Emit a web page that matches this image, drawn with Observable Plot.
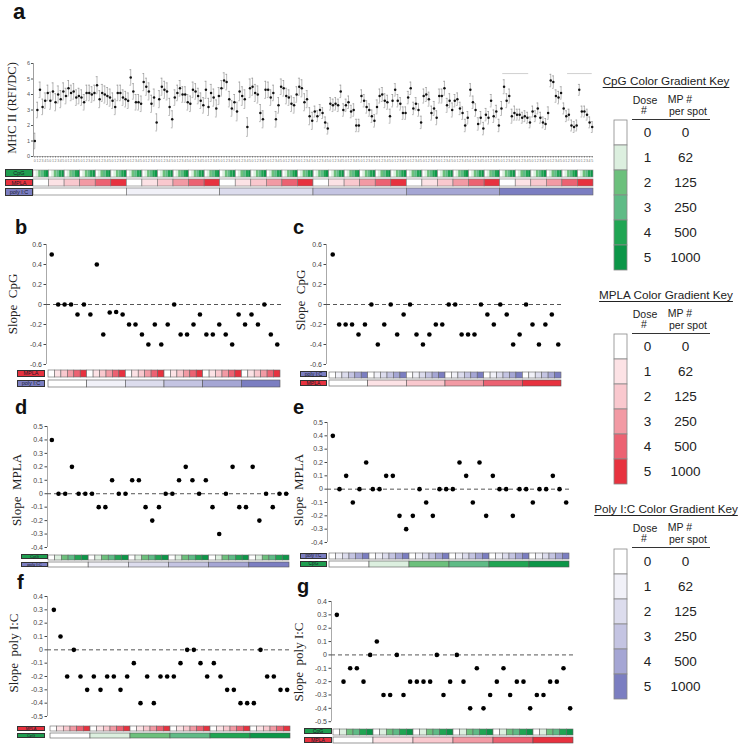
<!DOCTYPE html>
<html><head><meta charset="utf-8">
<script src="https://cdn.jsdelivr.net/npm/d3@7"></script>
<script src="https://cdn.jsdelivr.net/npm/@observablehq/plot@0.6"></script>
<style>
body{margin:0;background:#fff;}
#root{position:relative;width:740px;height:750px;overflow:hidden;font-family:"Liberation Sans",Arial,sans-serif;color:#222;}
#root > *{position:absolute;}
</style>
</head><body><div id="root"></div>
<script>
// ---------------- DATA ----------------
const doses = [0,1,2,3,4,5];
const mpPerSpot = ["0","62","125","250","500","1000"];
const cpgPal  = ["#ffffff","#dcefdf","#6cc07c","#5fbb86","#20a553","#0c9648"];
const mplaPal = ["#ffffff","#fce2e5","#f9c8ce","#f29aa4","#ec6272","#e7323f"];
const polyPal = ["#ffffff","#f1f1f8","#dcdced","#c4c4e2","#a5a6d4","#7b7ec1"];

// Panel a: MHC II mean (RFI/DC), 216 wells: poly I:C (slowest) x MPLA x CpG (fastest)
const mhcMeans = [
 1.0,3.0,4.3,3.2,3.6,4.1, 3.6,4.2,3.5,4.0,3.7,4.2, 3.9,4.4,4.1,4.2,3.8,3.9,
 3.8,3.5,4.1,4.1,4.0,4.1, 4.6,3.7,4.1,4.0,3.9,3.8, 3.6,3.2,4.1,4.1,3.8,3.7,
 3.6,5.1,4.2,3.5,3.5,3.4, 4.8,4.5,4.2,3.4,3.8,2.2, 3.7,4.5,4.3,4.2,3.2,2.4,
 3.8,4.1,4.4,4.0,4.0,3.5, 3.4,4.3,4.2,3.9,3.6,3.3, 4.3,3.2,4.1,3.8,3.1,3.9,
 4.4,4.9,4.8,3.7,3.1,3.5, 2.9,4.2,3.9,3.7,1.9,4.4, 4.5,4.1,4.0,2.8,2.4,4.3,
 4.3,3.8,4.1,2.4,3.3,4.5, 4.4,3.9,3.8,3.4,3.3,4.0, 4.5,4.4,3.5,3.7,2.6,2.3,
 2.9,2.6,3.0,2.8,2.2,1.8, 3.4,3.3,3.4,3.3,4.2,3.0, 3.3,3.5,2.9,3.0,2.0,2.0,
 3.9,3.6,3.2,3.0,2.6,2.3, 3.2,3.9,4.0,3.6,3.5,2.6, 3.6,4.3,3.6,3.4,2.8,2.8,
 3.8,4.4,3.1,3.4,3.0,2.2, 3.9,4.0,3.7,2.8,3.1,2.5, 3.9,3.9,4.4,3.3,3.6,3.0,
 3.6,3.7,3.1,2.8,2.0,2.5, 4.3,3.5,3.0,2.1,2.5,1.8, 2.7,2.5,3.6,2.6,2.9,2.0,
 3.1,4.5,3.6,3.9,2.6,2.8, 2.7,2.7,2.5,2.6,2.5,2.2, 2.9,2.6,3.1,2.5,2.2,2.1,
 2.8,4.9,4.8,3.9,3.8,4.1, 3.1,2.6,2.7,2.0,1.9,2.0, 4.3,2.9,2.9,2.7,2.2,1.9
];
// error half-width per MPLA block of 6 wells
const mhcErr = [0.5,0.55,0.5,0.5,0.55,0.5, 0.5,0.55,0.55,0.5,0.5,0.55, 0.5,0.6,0.55,0.5,0.5,0.55,
 0.35,0.4,0.4,0.4,0.45,0.4, 0.4,0.45,0.45,0.4,0.4,0.4, 0.45,0.35,0.35,0.4,0.35,0.35];
const sigBars = [{x1:181, x2:191, y:5.35},{x1:206, x2:215.5, y:5.35}];

const bSlope = [0.5,0,0,0,-0.1,0, -0.1,0.4,-0.3,-0.08,-0.075,-0.1, -0.2,-0.2,-0.3,-0.4,-0.2,-0.4, -0.2,0,-0.3,-0.3,-0.2,-0.1, -0.3,-0.3,-0.2,-0.3,-0.4,-0.1, -0.2,-0.1,-0.2,0,-0.3,-0.4];
const cSlope = [0.5,-0.2,-0.2,-0.2,-0.3,-0.2, 0,-0.4,-0.2,0,-0.3,-0.1, 0,-0.3,-0.4,-0.3,-0.2,-0.2, 0,0,-0.3,-0.3,-0.3,0, -0.1,-0.2,0,-0.1,-0.4,-0.3, 0,-0.2,-0.4,-0.2,-0.1,-0.4];
const dSlope = [0.4,0,0,0.2,0,0, 0,-0.1,-0.1,0.1,0,0, 0.1,0.1,-0.1,-0.2,-0.1,0, 0,0.1,0.2,0.1,0,0.1, -0.1,-0.3,0,0.2,-0.1,-0.1, 0.2,-0.2,0,-0.1,0,0];
const eSlope = [0.4,0,0.1,-0.1,0,0.2, 0,0,0.1,0.1,-0.2,-0.3, -0.2,0,-0.1,-0.2,0,0, 0,0.2,0.1,-0.1,0.2,-0.2, 0.1,0,0,-0.2,0,0, -0.1,0,0,0.1,0,-0.1];
const fSlope = [0.3,0.1,-0.2,0,-0.2,-0.3, -0.2,-0.3,-0.2,-0.2,-0.3,-0.2, -0.1,-0.4,-0.2,-0.4,-0.2,-0.2, -0.2,-0.1,0,0,-0.1,-0.2, -0.1,-0.2,-0.3,-0.3,-0.4,-0.4, -0.4,0,-0.2,-0.2,-0.3,-0.3];
const gSlope = [0.3,-0.2,-0.1,-0.1,-0.2,0, 0.1,-0.3,-0.3,0,-0.3,-0.2, -0.2,-0.2,-0.2,0,-0.3,-0.2, 0,-0.2,-0.4,-0.1,-0.4,-0.3, -0.2,-0.1,-0.3,-0.2,-0.2,-0.4, -0.3,-0.3,-0.2,-0.2,-0.1,-0.4];

// ---------------- HELPERS ----------------
const root = document.getElementById("root");
const SANS = "'Liberation Sans', Arial, sans-serif";
const SERIF = "'Liberation Serif', 'Times New Roman', serif";
const agents = {
  CpG:{pal:cpgPal, label:"CpG", tag:"#1f9e50"},
  MPLA:{pal:mplaPal, label:"MPLA", tag:"#e7323f"},
  poly:{pal:polyPal, label:"poly I:C", tag:"#7b7ec1"}
};
function put(node, left, top){ node.style.position="absolute"; node.style.left=left+"px"; node.style.top=top+"px"; root.appendChild(node); return node; }
function txt(text, css){ const d=document.createElement("div"); d.textContent=text; d.style.cssText="position:absolute;white-space:pre;line-height:1;"+css; root.appendChild(d); return d; }
function letter(ch, x, baseline, fs){ txt(ch, `left:${x}px;top:${baseline-0.85*fs}px;font:bold ${fs}px ${SANS};color:#111`); }
function ylab(t, cx, cy, fs){ txt(t, `left:${cx}px;top:${cy}px;transform:translate(-50%,-50%) rotate(-90deg);font-family:${SERIF};font-size:${fs}px;color:#222`); }
function tag(ag, x0, x1, y0, h){
  txt(agents[ag].label, `left:${x0}px;top:${y0}px;width:${x1-x0}px;height:${h}px;box-sizing:border-box;border:0.7px solid #333;background:${agents[ag].tag};font-family:${SANS};font-size:${Math.min(5.5,h-1)}px;line-height:${h-1.4}px;text-align:center;color:#1a1a2a`);
}
const baseStyle = {background:"transparent", overflow:"visible", fontFamily:SANS};

// Strip of dose-coded cells
function strip({left, top, height, width, mL, mR, xDomain, rows, pad}){
  const marks = [];
  rows.forEach(r => {
    marks.push(Plot.barX(r.cells, {x1:"x1", x2:"x2", y:() => r.name, fill:d => agents[r.agent].pal[d.dose], stroke:r.stroke || "none", strokeWidth:0.6}));
    if (r.outline) marks.push(Plot.barX(r.outline, {x1:"x1", x2:"x2", y:() => r.name, fill:"none", stroke:"#888", strokeWidth:0.6}));
  });
  const p = Plot.plot({width, height, marginLeft:mL, marginRight:mR, marginTop:0, marginBottom:0,
    x:{domain:xDomain, axis:null},
    y:{type:"band", domain:rows.map(r=>r.name), paddingInner:pad, paddingOuter:0, axis:null},
    style:baseStyle, marks});
  put(p, left, top);
  const step = height/(rows.length - pad), bw = step*(1-pad);
  return rows.map((r,i)=>({y0: top + i*step, h: bw}));
}
function fastCells(n){ return d3.range(n).map(i=>({x1:i, x2:i+1, dose:doses[i%6]})); }
function blockCells(n, w){ return d3.range(n).map(k=>({x1:k*w, x2:(k+1)*w, dose:doses[k%6]})); }

// ---------------- PANEL A ----------------
letter("a", 13, 18, 22);
const aData = mhcMeans.map((m,i)=>({x:i+0.5, m, e:mhcErr[Math.floor(i/6)]}));
const aPlot = Plot.plot({
  width:600, height:115, marginLeft:33, marginRight:7, marginTop:8, marginBottom:14,
  x:{domain:[0,216], axis:null}, y:{domain:[0,6], axis:null},
  style:{...baseStyle, color:"#333"},
  marks:[
    Plot.ruleY([0], {stroke:"#999", strokeWidth:0.7}),
    Plot.ruleX([0], {y1:0, y2:6, stroke:"#888", strokeWidth:0.8}),
    Plot.axisY({ticks:[0,1,2,3,4,5,6], tickFormat:d=>String(d), tickSize:2, tickPadding:1.5, fontSize:5.5, label:null, color:"#555"}),
    Plot.axisX({ticks:aData.map(d=>d.x), tickFormat:d=>String(Math.floor(d)%6), tickSize:1.5, tickPadding:1, fontSize:3.6, label:null, color:"#777"}),
    Plot.ruleY(sigBars, {y:"y", x1:"x1", x2:"x2", stroke:"#c4c4c4", strokeWidth:0.8}),
    Plot.ruleX(aData, {x:"x", y1:d=>d.m-d.e, y2:d=>d.m+d.e, stroke:"#888", strokeWidth:0.6}),
    Plot.ruleY(aData, {y:d=>d.m-d.e, x1:d=>d.x-0.32, x2:d=>d.x+0.32, stroke:"#888", strokeWidth:0.6}),
    Plot.ruleY(aData, {y:d=>d.m+d.e, x1:d=>d.x-0.32, x2:d=>d.x+0.32, stroke:"#888", strokeWidth:0.6}),
    Plot.dot(aData, {x:"x", y:"m", r:1.25, fill:"#111"})
  ]
});
put(aPlot, 0, 55);
ylab("MHC II (RFI/DC)", 12, 108, 12.5);
const aRows = strip({left:0, top:169, height:27, width:600, mL:33, mR:7, xDomain:[0,216], pad:0.2, rows:[
  {name:"CpG", agent:"CpG", cells:fastCells(216), outline:blockCells(36,6)},
  {name:"MPLA", agent:"MPLA", cells:blockCells(36,6), stroke:"#777"},
  {name:"poly", agent:"poly", cells:blockCells(6,36), stroke:"#666"}
]});
["CpG","MPLA","poly"].forEach((ag,i)=>tag(ag, 5, 33, aRows[i].y0, aRows[i].h));

// ---------------- PANELS B-G ----------------
const panels = [
 {ch:"b", vals:bSlope, left:0,   axis:46,  c0:48,  c1:280, yDom:[-0.6,0.6], yPx:[244,364],   step:0.2, sT:370, sB:387, fast:"MPLA", slow:"poly", tagX:[17,45],  lx:15,  lb:233, ylab:"Slope  CpG",      yl:[12,304]},
 {ch:"c", vals:cSlope, left:290, axis:326, c0:329, c1:561, yDom:[-0.6,0.6], yPx:[244,364],   step:0.2, sT:371, sB:386, fast:"poly", slow:"MPLA", tagX:[300,327], lx:293, lb:233, ylab:"Slope  CpG",      yl:[300,300]},
 {ch:"d", vals:dSlope, left:0,   axis:47,  c0:48,  c1:289, yDom:[-0.4,0.5], yPx:[426,547],   step:0.1, sT:554, sB:567, fast:"CpG",  slow:"poly", tagX:[21,48],  lx:15,  lb:413, ylab:"Slope  MPLA",     yl:[16,490]},
 {ch:"e", vals:eSlope, left:290, axis:327, c0:329, c1:569, yDom:[-0.4,0.5], yPx:[422,542],   step:0.1, sT:553, sB:567, fast:"poly", slow:"CpG",  tagX:[300,327], lx:293, lb:413, ylab:"Slope  MPLA",     yl:[298,490]},
 {ch:"f", vals:fSlope, left:0,   axis:47,  c0:50,  c1:290, yDom:[-0.5,0.4], yPx:[596,716],   step:0.1, sT:726, sB:738, fast:"MPLA", slow:"CpG",  tagX:[17,45],  lx:17,  lb:588, ylab:"Slope  poly I:C", yl:[13,653]},
 {ch:"g", vals:gSlope, left:290, axis:331, c0:333, c1:573, yDom:[-0.5,0.4], yPx:[600.5,720.7], step:0.1, sT:728, sB:743, fast:"CpG",  slow:"MPLA", tagX:[304,332], lx:297, lb:592, ylab:"Slope  poly I:C", yl:[298,662]}
];
panels.forEach(P => {
  letter(P.ch, P.lx, P.lb, 20);
  ylab(P.ylab, P.yl[0], P.yl[1], 13);
  const unit = (P.c1 - P.c0)/36, delta = (P.c0 - P.axis)/unit;
  const mT = 6, mB = 5, mR = 8;
  const data = P.vals.map((v,i)=>({x:i+0.5, v}));
  const ticks = d3.range(Math.round(P.yDom[0]*10), Math.round(P.yDom[1]*10)+1, Math.round(P.step*10)).map(t=>t/10);
  const plot = Plot.plot({
    width:P.c1 + mR - P.left, height:P.yPx[1]-P.yPx[0]+mT+mB,
    marginLeft:P.axis - P.left, marginRight:mR, marginTop:mT, marginBottom:mB,
    x:{domain:[-delta,36], axis:null}, y:{domain:P.yDom, axis:null},
    style:baseStyle,
    marks:[
      Plot.ruleX([-delta], {y1:P.yDom[0], y2:P.yDom[1], stroke:"#aaa", strokeWidth:1}),
      Plot.axisY({ticks, tickFormat:d=>String(+d.toFixed(1)), tickSize:2.5, tickPadding:2, fontSize:7, label:null, color:"#444"}),
      Plot.ruleY([0], {x1:-delta, x2:36.2, stroke:"#555", strokeWidth:1, strokeDasharray:"4,3"}),
      Plot.dot(data, {x:"x", y:"v", r:2.3, fill:"#000"})
    ]
  });
  put(plot, P.left, P.yPx[0]-mT);
  const rows = strip({left:P.left, top:P.sT, height:P.sB-P.sT, width:P.c1+mR-P.left, mL:P.c0-P.left, mR, xDomain:[0,36], pad:0.3, rows:[
    {name:"fast", agent:P.fast, cells:fastCells(36), stroke:"#666"},
    {name:"slow", agent:P.slow, cells:blockCells(6,6), stroke:"#555"}
  ]});
  tag(P.fast, P.tagX[0], P.tagX[1], rows[0].y0, rows[0].h);
  tag(P.slow, P.tagX[0], P.tagX[1], rows[1].y0, rows[1].h);
});

// ---------------- KEYS ----------------
const keys = [
 {title:"CpG Color Gradient Key", agent:"CpG", line:119, swTop:118, swBot:271},
 {title:"MPLA Color Gradient Key", agent:"MPLA", line:333, swTop:333, swBot:485},
 {title:"Poly I:C Color Gradient Key", agent:"poly", line:547, swTop:548, swBot:700}
];
keys.forEach(K => {
  const fs = 11.7;
  txt(K.title, `left:592px;width:148px;text-align:center;top:${K.line-34-0.85*fs}px;font-family:${SANS};font-size:${fs}px;text-decoration:underline;text-underline-offset:2px;color:#222`);
  const hs = 10.5;
  const hdr = (t, cx, base) => txt(t, `left:${cx-30}px;width:60px;text-align:center;top:${base-0.85*hs}px;font-family:${SANS};font-size:${hs}px;color:#222`);
  hdr("Dose", 645, K.line-15.5); hdr("#", 644, K.line-5);
  hdr("MP #", 680, K.line-16); hdr("per spot", 688, K.line-4);
  const ln = document.createElement("div"); ln.style.cssText=`position:absolute;left:632px;top:${K.line}px;width:78px;height:0;border-top:1px solid #333`; root.appendChild(ln);
  const rows = doses.map(d=>({dose:d, mp:mpPerSpot[d]}));
  const kp = Plot.plot({
    width:140, height:K.swBot-K.swTop, marginLeft:14, marginRight:113, marginTop:0, marginBottom:0,
    x:{domain:[0,1], axis:null}, y:{type:"band", domain:doses, padding:0, axis:null},
    style:baseStyle,
    marks:[
      Plot.barX(rows, {x1:()=>0, x2:()=>1, y:"dose", fill:d=>agents[K.agent].pal[d.dose], stroke:"#888", strokeWidth:0.8}),
      Plot.text(rows, {x:()=>1, y:"dose", text:d=>String(d.dose), dx:20, fontSize:13.5, fill:"#222"}),
      Plot.text(rows, {x:()=>1, y:"dose", text:"mp", dx:58, fontSize:13.5, fill:"#222"})
    ]
  });
  put(kp, 600, K.swTop);
});
</script>
</body></html>
